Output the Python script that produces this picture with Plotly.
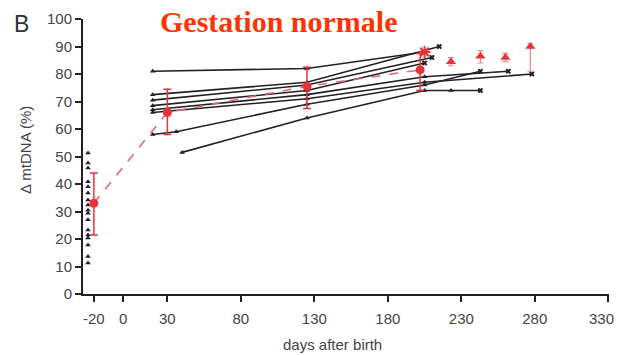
import plotly.graph_objects as go

# Individual animals (black lines)
subj_x = [
    [20, 125, 205],
    [20, 125, 215],
    [20, 125, 210],
    [20, 125, 205],
    [20, 125, 205, 262],
    [20, 125, 205, 278],
    [20, 36, 125, 205, 243],
    [40, 125, 205, 223, 243],
]
subj_y = [
    [81, 82, 88],
    [72.5, 77, 90],
    [70.5, 76, 86],
    [68.5, 74, 84],
    [67, 72.5, 79, 81],
    [66, 71, 77, 80],
    [58, 59, 69, 76, 81],
    [51.5, 64, 74, 74, 74],
]

# Individual values at birth (black triangles near the axis)
birth_x = [-24] * 17
birth_y = [51.3, 47.6, 45.8, 40.8, 39, 36.7, 34.2, 32.4, 30.5, 29.4, 27, 23.3, 21.5, 20.4, 17.8, 13.6, 11.3]

# Mean (red, dashed)
mean_x = [-20, 30, 125, 202]
mean_y = [33, 66, 75.5, 81.5]
mean_err_up = [11, 8.5, 7, 6]
mean_err_dn = [11.5, 8, 8, 7.5]

# Red star
star_x = [205]
star_y = [88]

# Red triangles (later time points)
tri_x = [223, 243, 260, 277]
tri_y = [84.5, 86.5, 86, 90]
tri_err_up = [1.5, 2, 1.5, 1]
tri_err_dn = [1.5, 2.5, 1.5, 9]

x_ticks = [-20, 0, 30, 80, 130, 180, 230, 280, 330]
y_ticks = [0, 10, 20, 30, 40, 50, 60, 70, 80, 90, 100]

fig = go.Figure()

for xs, ys in zip(subj_x, subj_y):
    syms = ["triangle-up"] * (len(xs) - 1) + ["x"]
    fig.add_trace(go.Scatter(
        x=xs, y=ys, mode="lines+markers",
        line=dict(color="#222222", width=1.6),
        marker=dict(symbol=syms, size=5, color="#222222"),
        showlegend=False, hoverinfo="skip"))

fig.add_trace(go.Scatter(
    x=birth_x, y=birth_y, mode="markers",
    marker=dict(symbol="triangle-up", size=5, color="#222222"),
    showlegend=False))

fig.add_trace(go.Scatter(
    x=mean_x, y=mean_y, mode="lines+markers",
    line=dict(color="#e06a6a", width=1.6, dash="dash"),
    marker=dict(symbol="circle", size=9, color="#e8333a"),
    error_y=dict(type="data", symmetric=False, array=mean_err_up,
                 arrayminus=mean_err_dn, color="#e8333a", thickness=1.5, width=4),
    showlegend=False))

fig.add_trace(go.Scatter(
    x=star_x, y=star_y, mode="markers",
    marker=dict(symbol="asterisk", size=10, color="#e8333a",
                line=dict(color="#e8333a", width=2)),
    showlegend=False))

fig.add_trace(go.Scatter(
    x=tri_x, y=tri_y, mode="markers",
    marker=dict(symbol="triangle-up", size=9, color="#e8333a"),
    error_y=dict(type="data", symmetric=False, array=tri_err_up,
                 arrayminus=tri_err_dn, color="#ee8888", thickness=1.2, width=3),
    showlegend=False))

tick_font = dict(size=15, color="#444444")

fig.update_layout(
    width=617, height=355,
    margin=dict(l=83, r=8, t=19, b=61),
    paper_bgcolor="white", plot_bgcolor="white",
    font=dict(family="Arial, Liberation Sans, sans-serif", color="#444444", size=15),
    xaxis=dict(range=[-27.4, 330.5], tickvals=x_ticks,
               ticktext=[str(v) if v != 330 else "" for v in x_ticks],
               showgrid=False, zeroline=False, showline=True, linecolor="#222222",
               linewidth=2, ticks="outside", ticklen=6, tickwidth=1.5, tickcolor="#222222",
               ticklabelstandoff=4, tickfont=tick_font),
    yaxis=dict(range=[0, 100], tickvals=y_ticks, showgrid=False, zeroline=False,
               showline=True, linecolor="#222222", linewidth=2, ticks="outside",
               ticklen=6, tickwidth=1.5, tickcolor="#222222",
               tickfont=tick_font),
    annotations=[
        dict(text="<b>Gestation normale</b>", xref="paper", yref="paper",
             x=(278 - 83) / 526, y=(294 - 21) / 275, xanchor="center", yanchor="middle",
             showarrow=False,
             font=dict(family="Liberation Serif, Times New Roman, serif", size=30, color="#ff3300")),
        dict(text="B", xref="paper", yref="paper",
             x=(21 - 83) / 526, y=(294 - 24) / 275, xanchor="center", yanchor="middle",
             showarrow=False, font=dict(size=23, color="#333333")),
        dict(text="Δ mtDNA (%)", xref="paper", yref="paper",
             x=(25 - 83) / 526, y=(294 - 150) / 275, xanchor="center", yanchor="middle",
             textangle=-90, showarrow=False, font=dict(size=15, color="#444444")),
        dict(text="days after birth", xref="paper", yref="paper",
             x=(332 - 83) / 526, y=(294 - 344) / 275, xanchor="center", yanchor="middle",
             showarrow=False, font=dict(size=15, color="#444444")),
        dict(text=str(x_ticks[-1]), xref="paper", yref="paper",
             x=(616 - 83) / 526, y=(294 - 318) / 275, xanchor="right", yanchor="middle",
             showarrow=False, font=tick_font),
    ],
)

fig.write_html("out.html", config={"displayModeBar": False},
               post_script="document.body.style.margin='0';document.body.style.padding='0';")
